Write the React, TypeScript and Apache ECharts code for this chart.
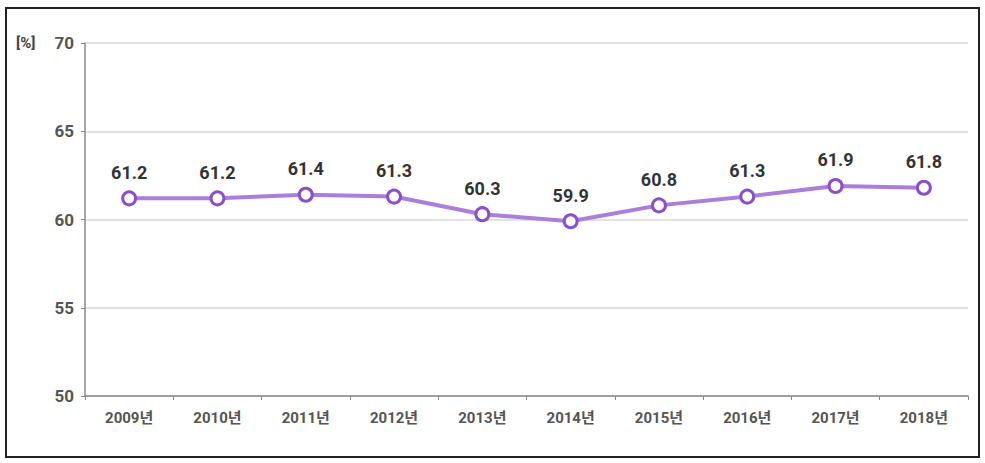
import React, { useEffect, useRef } from "react";
import * as echarts from "echarts";

const categories = ["2009년", "2010년", "2011년", "2012년", "2013년", "2014년", "2015년", "2016년", "2017년", "2018년"];
const values = [61.2, 61.2, 61.4, 61.3, 60.3, 59.9, 60.8, 61.3, 61.9, 61.8];
const unitLabel = "[%]";

const FONT = 'Roboto, "Noto Sans CJK KR", sans-serif';

export default function App() {
  const ref = useRef<HTMLDivElement>(null);
  useEffect(() => {
    document.body.style.margin = "0";
    const chart = echarts.init(ref.current!, null, { renderer: "svg" });
    chart.setOption({
      animation: false,
      backgroundColor: "#ffffff",
      graphic: [
        {
          type: "rect",
          shape: { x: 6, y: 8, width: 973, height: 449 },
          style: { fill: "none", stroke: "#222", lineWidth: 2 },
          silent: true,
        },
        {
          type: "text",
          x: 16,
          y: 43,
          style: {
            text: unitLabel,
            font: `bold 15px ${FONT}`,
            fill: "#444",
            verticalAlign: "middle",
          },
        },
      ],
      grid: { left: 85, right: 17, top: 43, bottom: 67 },
      xAxis: {
        type: "category",
        data: categories,
        boundaryGap: true,
        axisLine: { lineStyle: { color: "#888", width: 1.5 } },
        axisTick: { show: true, length: 4, lineStyle: { color: "#888" } },
        axisLabel: {
          color: "#555",
          fontFamily: FONT,
          fontSize: 15,
          fontWeight: "bold",
          margin: 14,
        },
      },
      yAxis: {
        type: "value",
        min: 50,
        max: 70,
        interval: 5,
        axisLine: { show: true, lineStyle: { color: "#888", width: 1.5 } },
        axisTick: { show: true, length: 4, lineStyle: { color: "#888" } },
        axisLabel: {
          color: "#555",
          fontFamily: FONT,
          fontSize: 17,
          fontWeight: "bold",
          margin: 11,
        },
        splitLine: { lineStyle: { color: "#d8d8d8", width: 1.5 } },
      },
      series: [
        {
          type: "line",
          data: values,
          symbol: "circle",
          symbolSize: 13,
          lineStyle: { color: "#ab7fd9", width: 4 },
          itemStyle: { color: "#ffffff", borderColor: "#8b4fc8", borderWidth: 3 },
          label: {
            show: true,
            position: "top",
            distance: 9,
            color: "#333",
            fontFamily: FONT,
            fontSize: 18,
            fontWeight: "bold",
            formatter: (p: any) => p.value.toFixed(1),
          },
        },
      ],
    });
    return () => chart.dispose();
  }, []);
  return <div ref={ref} style={{ width: 985, height: 463 }} />;
}
